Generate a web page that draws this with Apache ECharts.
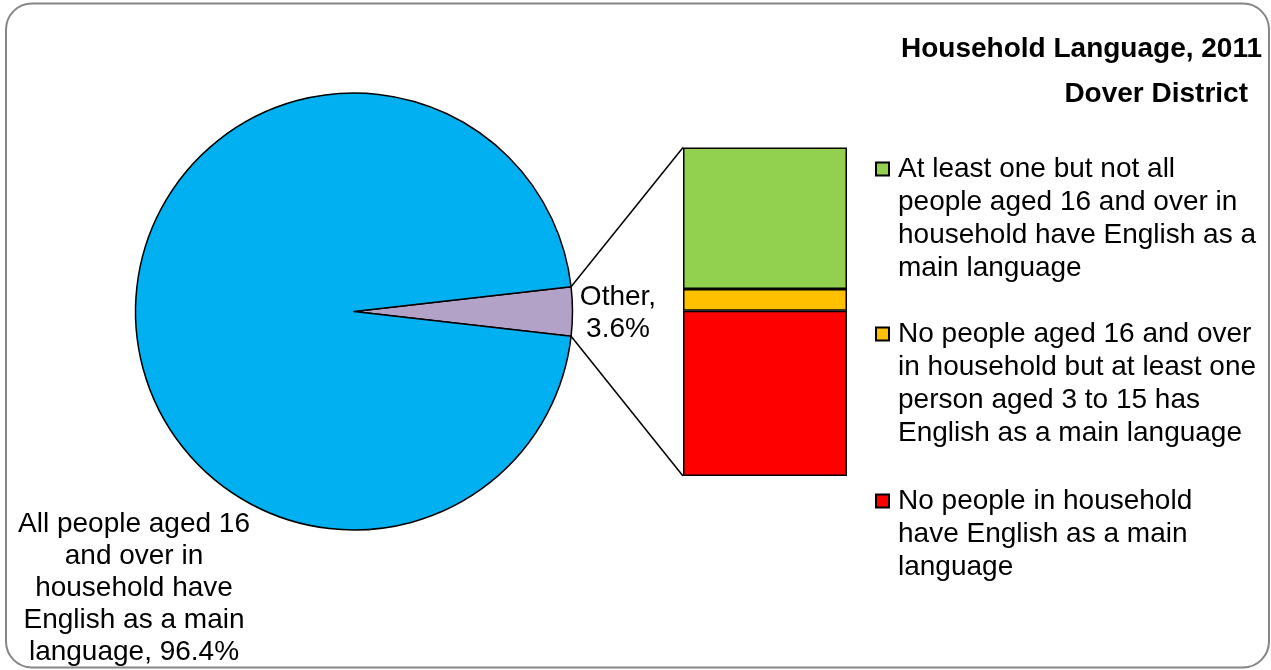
<!DOCTYPE html>
<html>
<head>
<meta charset="utf-8">
<title>Household Language, 2011 - Dover District</title>
<script src="https://cdn.jsdelivr.net/npm/echarts@6/dist/echarts.min.js"></script>
<style>
  html, body { margin: 0; padding: 0; background: #fff; }
  #main { width: 1271px; height: 670px; }
</style>
</head>
<body>
<div id="main"></div>
<script>
// main split (pie)
var pieNames = ['Other', 'All people aged 16 and over in household have English as a main language'];
var pieValues = [3.6, 96.4];
var pieWrapped = ['Other', 'All people aged 16\nand over in\nhousehold have\nEnglish as a main\nlanguage'];
var pieColors = ['#B2A2C7', '#00B0F0'];

// breakdown of "Other" (stacked bar, bottom to top)
var barNames = [
  'No people in household have English as a main language',
  'No people aged 16 and over in household but at least one person aged 3 to 15 has English as a main language',
  'At least one but not all people aged 16 and over in household have English as a main language'
];
var barValues = [1.81, 0.24, 1.55];
var barColors = ['#FF0000', '#FFC000', '#92D050'];
var barWrapped = [
  'No people in household\nhave English as a main\nlanguage',
  'No people aged 16 and over\nin household but at least one\nperson aged 3 to 15 has\nEnglish as a main language',
  'At least one but not all\npeople aged 16 and over in\nhousehold have English as a\nmain language'
];

var FONT = '"Liberation Sans", Arial, sans-serif';
var chart = echarts.init(document.getElementById('main'));

var pieCenter = [354, 311.5];
var pieRadius = 218.5;
var halfAngle = pieValues[0] / 100 * 360 / 2;
var GRID = { left: 683, top: 147.5, width: 164, height: 328.5 };
var LINE_H = 33;

// legend icon centers, top to bottom (green, orange, red)
var legendOrder = [2, 1, 0];
var legendIconY = [169, 334, 501];

function makeLegend(k) {
  var idx = legendOrder[k];
  var n = barWrapped[idx].split('\n').length;
  // blank lines in front keep the icon level with the first text line
  var pad = new Array(n).join('\n');
  return {
    orient: 'vertical',
    left: 870,
    top: legendIconY[k] - (n - 0.5) * LINE_H - 5,
    icon: 'rect',
    itemWidth: 13,
    itemHeight: 13,
    selectedMode: false,
    data: [barNames[idx]],
    formatter: function () { return pad + barWrapped[idx]; },
    textStyle: {
      fontFamily: FONT,
      fontSize: 28,
      lineHeight: LINE_H,
      color: '#000',
      padding: [0, 0, 0, 4]
    }
  };
}

var barSeries = barNames.map(function (name, i) {
  return {
    name: name,
    type: 'bar',
    stack: 'other',
    barWidth: '100%',
    silent: true,
    data: [barValues[i]],
    itemStyle: { color: barColors[i], borderColor: '#000', borderWidth: 1.5 }
  };
});

var option = {
  animation: false,
  backgroundColor: '#fff',
  title: [
    { text: 'Household Language, 2011', right: 4, top: 30,
      textStyle: { fontFamily: FONT, fontSize: 28, fontWeight: 'bold', color: '#000' } },
    { text: 'Dover District', right: 18, top: 75,
      textStyle: { fontFamily: FONT, fontSize: 28, fontWeight: 'bold', color: '#000' } }
  ],
  legend: [makeLegend(0), makeLegend(1), makeLegend(2)],
  grid: { left: GRID.left, top: GRID.top, width: GRID.width, height: GRID.height },
  xAxis: { type: 'category', data: ['Other'], show: false },
  yAxis: { type: 'value', min: 0, max: 3.6, show: false, splitLine: { show: false } },
  series: [
    {
      type: 'pie',
      center: pieCenter,
      radius: pieRadius,
      startAngle: halfAngle,
      clockwise: true,
      silent: true,
      emphasis: { scale: false },
      itemStyle: { borderColor: '#000', borderWidth: 1.5 },
      label: {
        show: true,
        position: 'outside',
        fontFamily: FONT,
        fontSize: 28,
        lineHeight: 32,
        color: '#000',
        width: 300,
        overflow: 'none',
        align: 'center',
        formatter: function (p) {
          var sep = p.dataIndex === 0 ? ',\n' : ', ';
          return pieWrapped[p.dataIndex] + sep + p.value + '%';
        }
      },
      labelLine: { show: false },
      labelLayout: function (p) {
        if (p.dataIndex === 0) {
          return { x: 618, y: 313, align: 'center', verticalAlign: 'middle' };
        }
        return { x: 134, y: 588, align: 'center', verticalAlign: 'middle' };
      },
      data: pieNames.map(function (name, i) {
        return { name: name, value: pieValues[i], itemStyle: { color: pieColors[i] } };
      })
    }
  ].concat(barSeries)
};

chart.setOption(option);

// connector lines from the "Other" slice to the stacked bar
var total = barValues.reduce(function (a, b) { return a + b; }, 0);
var yTop = chart.convertToPixel({ yAxisIndex: 0 }, total);
var yBottom = chart.convertToPixel({ yAxisIndex: 0 }, 0);
var rad = halfAngle * Math.PI / 180;
var ex = pieCenter[0] + pieRadius * Math.cos(rad);
var eyUp = pieCenter[1] - pieRadius * Math.sin(rad);
var eyDown = pieCenter[1] + pieRadius * Math.sin(rad);

chart.setOption({
  graphic: [
    {
      type: 'rect',
      silent: true,
      shape: { x: 6, y: 3.5, width: 1263, height: 664, r: 26 },
      style: { fill: 'none', stroke: '#868686', lineWidth: 2 }
    },
    {
      type: 'line',
      silent: true,
      shape: { x1: ex, y1: eyUp, x2: GRID.left, y2: yTop },
      style: { stroke: '#000', lineWidth: 1.5 }
    },
    {
      type: 'line',
      silent: true,
      shape: { x1: ex, y1: eyDown, x2: GRID.left, y2: yBottom },
      style: { stroke: '#000', lineWidth: 1.5 }
    }
  ]
});
</script>
</body>
</html>
